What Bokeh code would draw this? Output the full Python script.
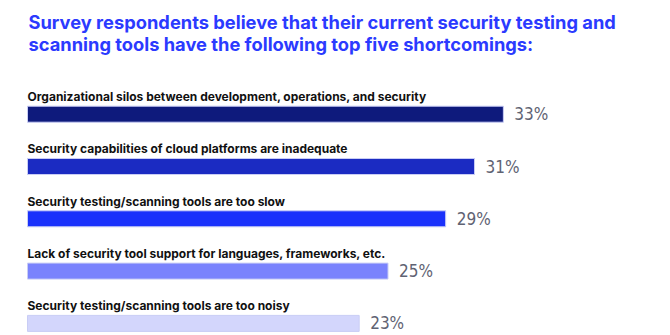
from bokeh.plotting import figure
from bokeh.models import Range1d, ColumnDataSource, Label
from bokeh.embed import file_html
from bokeh.resources import INLINE
from bokeh.core.properties import value

title_lines = ["Survey respondents believe that their current security testing and",
               "scanning tools have the following top five shortcomings:"]
categories = ["Organizational silos between development, operations, and security",
              "Security capabilities of cloud platforms are inadequate",
              "Security testing/scanning tools are too slow",
              "Lack of security tool support for languages, frameworks, etc.",
              "Security testing/scanning tools are too noisy"]
values = [33, 31, 29, 25, 23]
colors = ["#0e1a7c", "#1b2bc2", "#1a31fb", "#7a83fd", "#d3d6fc"]

W, H = 670, 335
px_per_unit = 14.42
left_px = 27
row_px = 52.3
first_center = 113.7

x_range = Range1d(-left_px / px_per_unit, (W - left_px) / px_per_unit)
y_range = Range1d((H - first_center) / row_px, -first_center / row_px)

p = figure(width=W, height=H, x_range=x_range, y_range=y_range,
           output_backend="svg", toolbar_location=None, min_border=0)
p.axis.visible = False
p.grid.visible = False
p.outline_line_color = None
p.background_fill_color = "white"

idx = list(range(len(values)))
src = ColumnDataSource(dict(
    y=idx, v=values, c=colors, cat=categories,
    lab=[f"{v}%" for v in values],
    ly=[i - 17.7 / row_px for i in idx],
    lx=[v + 11 / px_per_unit for v in values],
))

p.hbar(y="y", left=0, right="v", height=16 / row_px, fill_color="c",
       line_color="#c9cdf5", line_width=1, source=src)

p.text(x=0, y="ly", text="cat", source=src, text_font=value("Inter"),
       text_font_style="bold", text_font_size="12px", text_color="#111111",
       text_baseline="alphabetic", text_align="left")

p.text(x="lx", y="y", text="lab", source=src,
       text_font=value("DejaVu Sans Condensed, Roboto Condensed, Roboto"),
       text_font_size="17px", text_color="#5f6373", text_baseline="middle",
       text_align="left")

for i, t in enumerate(title_lines):
    p.add_layout(Label(x=28, y=H - 21 - 22 * i, x_units="screen", y_units="screen",
                       text=t, text_font="Inter", text_font_style="bold",
                       text_font_size="18.3px", text_color="#2b3aff",
                       text_baseline="alphabetic"))

open("out.html", "w").write(file_html(p, INLINE))
